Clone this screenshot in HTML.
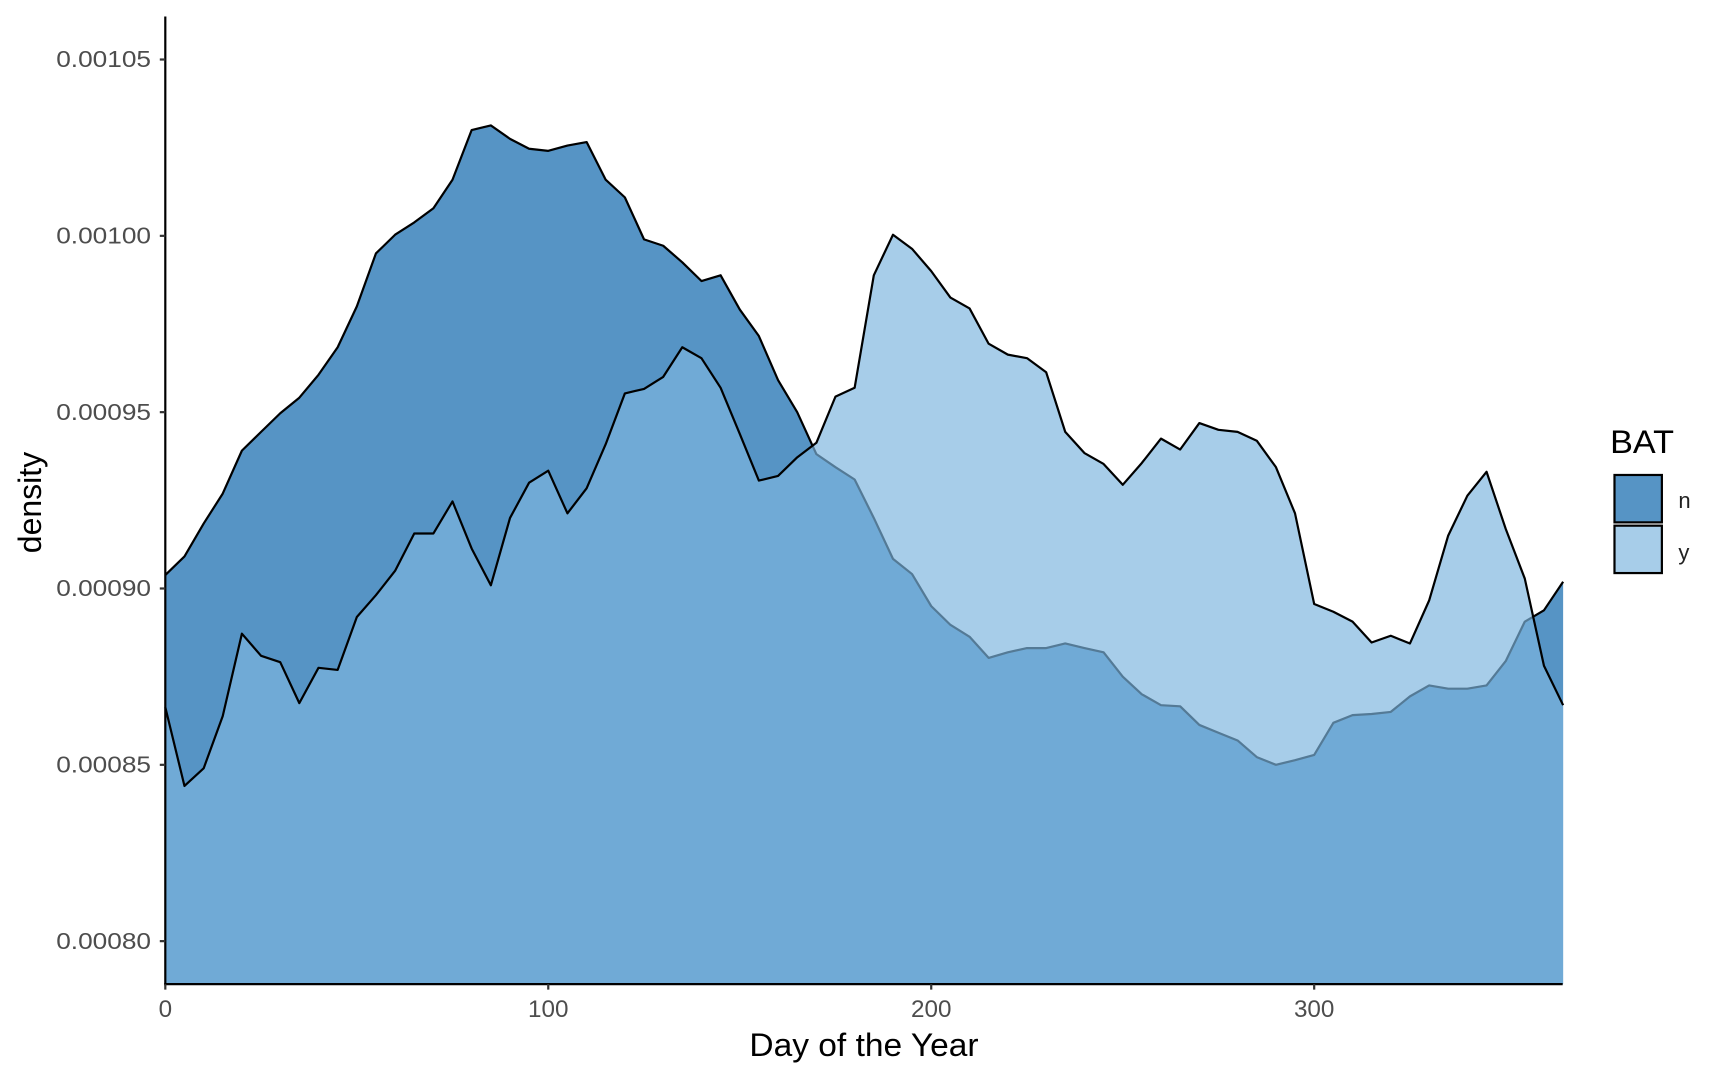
<!DOCTYPE html>
<html><head><meta charset="utf-8"><style>html,body{margin:0;padding:0;background:#fff}svg{display:block}text{font-family:"Liberation Sans",Arial,sans-serif}</style></head>
<body>
<svg id="chart" width="1728" height="1080" viewBox="0 0 1568 980" xmlns="http://www.w3.org/2000/svg">
<g id="plot"></g>
<g id="axes"></g>
<g>
<text x="1461" y="411" font-size="29" fill="#000" textLength="58" lengthAdjust="spacingAndGlyphs">BAT</text>
<rect x="1465" y="431" width="43" height="43" fill="#5694c5" stroke="#000" stroke-width="2"/>
<rect x="1465" y="477" width="43" height="43" fill="#a7cde9" stroke="#000" stroke-width="2"/>
<text x="1523" y="461" font-size="20" fill="#222">n</text>
<text x="1523" y="508" font-size="20" fill="#222">y</text>
</g>
<text x="784" y="958" font-size="29" text-anchor="middle" fill="#000" textLength="208" lengthAdjust="spacingAndGlyphs">Day of the Year</text>
<text transform="translate(37,456) rotate(-90)" font-size="29" text-anchor="middle" fill="#000" textLength="92" lengthAdjust="spacingAndGlyphs">density</text>
</svg>
<script>
const days = [0,5,10,15,20,25,30,35,40,45,50,55,60,65,70,75,80,85,90,95,100,105,110,115,120,125,130,135,140,145,150,155,160,165,170,175,180,185,190,195,200,205,210,215,220,225,230,235,240,245,250,255,260,265,270,275,280,285,290,295,300,305,310,315,320,325,330,335,340,345,350,355,360,365];
const seriesN = [903.8,909.1,918.4,926.9,939.1,944.4,949.7,954.1,960.6,968.4,980,995,1000.3,1003.8,1007.8,1015.9,1030,1031.3,1027.5,1024.7,1024.1,1025.6,1026.6,1015.9,1010.9,999,997.2,992.5,987.2,988.8,979.1,971.6,959.1,950,938.1,934.4,930.9,920,908.4,904.1,895,889.7,886.3,880.3,881.9,883.1,883.1,884.4,883.1,881.9,875,870,866.9,866.6,861.3,859.1,856.9,852.2,850,851.3,852.8,861.9,864.1,864.4,865,869.4,872.5,871.6,871.6,872.5,879.4,890.6,893.8,901.9];
const seriesY = [866.3,844,849,863.8,887.2,880.9,879.1,867.5,877.5,876.9,891.9,898.1,905,915.6,915.6,924.7,911.3,900.9,920,930,933.4,921.3,928.4,940.9,955.3,956.6,960,968.4,965.3,956.9,943.8,930.6,931.9,937.2,941.3,954.4,956.9,988.8,1000.3,996.3,990,982.5,979.4,969.4,966.3,965.3,961.3,944.4,938.4,935.3,929.4,935.6,942.5,939.4,946.9,945,944.4,941.9,934.4,921.3,895.6,893.4,890.6,884.7,886.6,884.4,896.6,915,926.3,933.1,916.9,902.8,878.1,866.9];
const xTicks = [0,100,200,300];
const yTicks = [0.00080,0.00085,0.00090,0.00095,0.00100,0.00105];
const yTickLabels = ["0.00080","0.00085","0.00090","0.00095","0.00100","0.00105"];

const NS="http://www.w3.org/2000/svg";
const X0=150,X1=1418,YB=893,YT=15;
function xs(d){return 150+d*3.475;}
function ys(v){return 854-(v-0.0008)/0.00005*160;}
const plot=document.getElementById('plot'), axes=document.getElementById('axes');
function areaPath(vals){
  let p='M'+xs(days[0])+','+YB;
  for(let i=0;i<days.length;i++)p+=' L'+xs(days[i]).toFixed(1)+','+ys(vals[i]*1e-6).toFixed(1);
  return p+' L'+xs(days[days.length-1])+','+YB+' Z';
}
function linePath(vals){
  let p='';
  for(let i=0;i<days.length;i++)p+=(i?' L':'M')+xs(days[i]).toFixed(1)+','+ys(vals[i]*1e-6).toFixed(1);
  return p;
}
function mk(tag,attrs){const e=document.createElementNS(NS,tag);for(const k in attrs)e.setAttribute(k,attrs[k]);return e;}
const aN=mk('path',{d:areaPath(seriesN),fill:'#5694c5'});


plot.appendChild(aN);
const lN=mk('path',{d:linePath(seriesN),fill:'none',stroke:'#000','stroke-width':2,'stroke-linejoin':'round'});


plot.appendChild(lN);
const aY=mk('path',{d:areaPath(seriesY),fill:'#7cb5de','fill-opacity':0.673});


plot.appendChild(aY);
const lY=mk('path',{d:linePath(seriesY),fill:'none',stroke:'#000','stroke-width':2,'stroke-linejoin':'round'});


plot.appendChild(lY);

const yAx=mk('line',{x1:X0,y1:YT,x2:X0,y2:YB+1,stroke:'#000','stroke-width':2});


axes.appendChild(yAx);
const xAx=mk('line',{x1:X0-1,y1:YB,x2:X1,y2:YB,stroke:'#000','stroke-width':2});


axes.appendChild(xAx);
yTicks.forEach((v,i)=>{
  const y=ys(v);
  const t=mk('line',{x1:X0-5,y1:y,x2:X0,y2:y,stroke:'#333','stroke-width':2});
  
  
  axes.appendChild(t);
  const l=mk('text',{x:X0-13,y:y+7,'font-size':21,'text-anchor':'end',fill:'#4d4d4d',textLength:86,lengthAdjust:'spacingAndGlyphs'});
  l.textContent=yTickLabels[i];
  
  
  axes.appendChild(l);
});
xTicks.forEach(d=>{
  const x=xs(d);
  const t=mk('line',{x1:x,y1:YB,x2:x,y2:YB+5,stroke:'#333','stroke-width':2});
  
  
  axes.appendChild(t);
  const l=mk('text',{x:x,y:YB+30,'font-size':22,'text-anchor':'middle',fill:'#4d4d4d'});
  l.textContent=String(d);
  
  
  axes.appendChild(l);
});
</script>
</body></html>
